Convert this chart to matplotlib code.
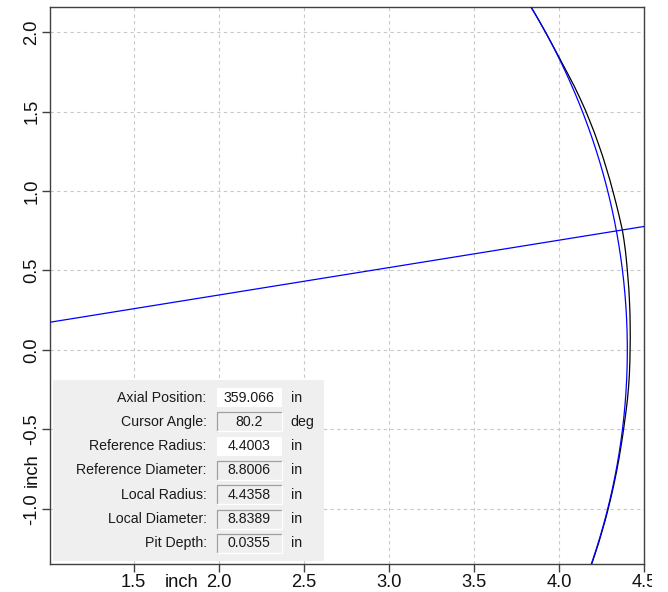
import numpy as np
import matplotlib
matplotlib.use("Agg")
import matplotlib.pyplot as plt
from matplotlib.patches import Rectangle

plt.rcParams['font.family'] = ['Liberation Sans', 'DejaVu Sans']

# ---------------- data ----------------
reference_radius = 4.4003
cursor_angle_deg = 80.2

# measured local profile (angle from x axis in degrees, radius in inches)
profile_angle_deg = [31, 30, 29, 28, 27, 26, 25, 24, 23, 22, 21, 20, 19, 18, 17, 16,
                     15, 14, 13, 12, 11, 10, 9.8, 9, 8, 7, 6, 5, 4, 3, 2, 1, 0,
                     -1, -2, -3, -4, -5, -6, -7, -8, -9, -10, -11, -12, -13, -14,
                     -15, -16, -17, -18, -19, -20]
profile_radius = [4.4004, 4.4002, 4.4005, 4.4003, 4.4006, 4.4012, 4.4025, 4.4051,
                  4.4088, 4.4131, 4.4162, 4.4195, 4.4212, 4.4236, 4.4248, 4.4265,
                  4.4272, 4.4288, 4.4296, 4.4314, 4.4331, 4.4352, 4.4358, 4.4349,
                  4.4330, 4.4301, 4.4275, 4.4259, 4.4236, 4.4218, 4.4196, 4.4182,
                  4.4165, 4.4158, 4.4151, 4.4138, 4.4121, 4.4097, 4.4074, 4.4062,
                  4.4051, 4.4047, 4.4041, 4.4036, 4.4034, 4.4030, 4.4031, 4.4026,
                  4.4027, 4.4024, 4.4025, 4.4022, 4.4023]

x_ticks = [1.5, 2.0, 2.5, 3.0, 3.5, 4.0, 4.5]
x_tick_labels = ["1.5", "2.0", "2.5", "3.0", "3.5", "4.0", "4.5"]
y_ticks = [-1.0, -0.5, 0.0, 0.5, 1.0, 1.5, 2.0]
y_tick_labels = ["-1.0", "-0.5", "0.0", "0.5", "1.0", "1.5", "2.0"]
unit_label = "inch"

info_labels = ["Axial Position:", "Cursor Angle:", "Reference Radius:",
               "Reference Diameter:", "Local Radius:", "Local Diameter:", "Pit Depth:"]
info_values = ["359.066", "80.2", "4.4003", "8.8006", "4.4358", "8.8389", "0.0355"]
info_units = ["in", "deg", "in", "in", "in", "in", "in"]
info_editable = [True, False, True, False, False, False, False]

# ---------------- figure ----------------
W, H = 668, 592
fig = plt.figure(figsize=(W / 100, H / 100), dpi=100)
fig.patch.set_facecolor('white')

ax_l, ax_r, ax_t, ax_b = 50.3, 644.3, 7.3, 564.3
ax = fig.add_axes([ax_l / W, 1 - ax_b / H, (ax_r - ax_l) / W, (ax_b - ax_t) / H])
ax.set_xlim(1.010, 4.5)
ax.set_ylim(-1.350, 2.157)

# reference circle
t = np.radians(np.linspace(-40, 60, 600))
ax.plot(reference_radius * np.cos(t), reference_radius * np.sin(t),
        color='#0000ff', lw=0.9, zorder=3)

# measured profile
pa = np.radians(profile_angle_deg)
pr = np.array(profile_radius)
ax.plot(pr * np.cos(pa), pr * np.sin(pa), color='black', lw=0.9, zorder=2)

# cursor line
ca = np.radians(90 - cursor_angle_deg)
ax.plot([0, 6 * np.cos(ca)], [0, 6 * np.sin(ca)], color='#0000ff', lw=0.9, zorder=3)

# ticks & grid
ax.set_xticks(x_ticks)
ax.set_xticklabels(x_tick_labels)
ax.set_yticks(y_ticks)
ax.set_yticklabels(y_tick_labels, rotation=90, va='center')
ax.set_xticks([1.78], minor=True)
ax.set_xticklabels([unit_label], minor=True)
ax.set_yticks([-0.755], minor=True)
ax.set_yticklabels([unit_label], minor=True, rotation=90, va='center')

tick_len = 5.5
ax.tick_params(which='major', length=tick_len, width=1.0, color='#404040',
               labelsize=13.2, labelcolor='#111111', pad=1.5)
ax.tick_params(which='minor', length=0, labelsize=13.2, labelcolor='#111111',
               pad=tick_len + 1.5)
ax.grid(which='major', color='#c8c8c8', linestyle=(0, (3, 3)), lw=0.8)
ax.set_axisbelow(True)
for s in ax.spines.values():
    s.set_color('#404040')
    s.set_linewidth(1.0)

# ---------------- info panel ----------------
p_l, p_t, p_r, p_b = 52.7, 380.0, 324.0, 560.7
pw, ph = p_r - p_l, p_b - p_t
pax = fig.add_axes([p_l / W, 1 - p_b / H, pw / W, ph / H])
pax.set_xlim(0, pw)
pax.set_ylim(ph, 0)
pax.axis('off')
pax.add_patch(Rectangle((0, 0), pw, ph, facecolor='#efefef', edgecolor='none'))

label_x = 154.0
box_x0, box_x1 = 164.0, 229.0
unit_x = 238.0
row_y0, row_dy = 17.5, 24.3
box_h = 19.0
for i, (lab, val, unit, edit) in enumerate(zip(info_labels, info_values,
                                                 info_units, info_editable)):
    yc = row_y0 + i * row_dy
    pax.text(label_x, yc, lab, ha='right', va='center', fontsize=10.2, color='#1a1a1a')
    if edit:
        pax.add_patch(Rectangle((box_x0, yc - box_h / 2), box_x1 - box_x0, box_h,
                                facecolor='white', edgecolor='none'))
    else:
        pax.add_patch(Rectangle((box_x0, yc - box_h / 2), box_x1 - box_x0, box_h,
                                facecolor='#efefef', edgecolor='none'))
        pax.plot([box_x0, box_x0, box_x1], [yc + box_h / 2, yc - box_h / 2, yc - box_h / 2],
                 color='#a0a0a0', lw=0.9)
        pax.plot([box_x0, box_x1, box_x1], [yc + box_h / 2, yc + box_h / 2, yc - box_h / 2],
                 color='white', lw=0.9)
    pax.text((box_x0 + box_x1) / 2, yc, val, ha='center', va='center',
             fontsize=10.2, color='#1a1a1a')
    pax.text(unit_x, yc, unit, ha='left', va='center', fontsize=10.2, color='#1a1a1a')

# clip of the right-most tick label as in the original window
fig.patches.append(Rectangle((651.5 / W, 0), (W - 651.5) / W, 30 / H,
                             transform=fig.transFigure, facecolor='white',
                             edgecolor='none', zorder=10))

fig.savefig('out.png', dpi=100, facecolor='white')
